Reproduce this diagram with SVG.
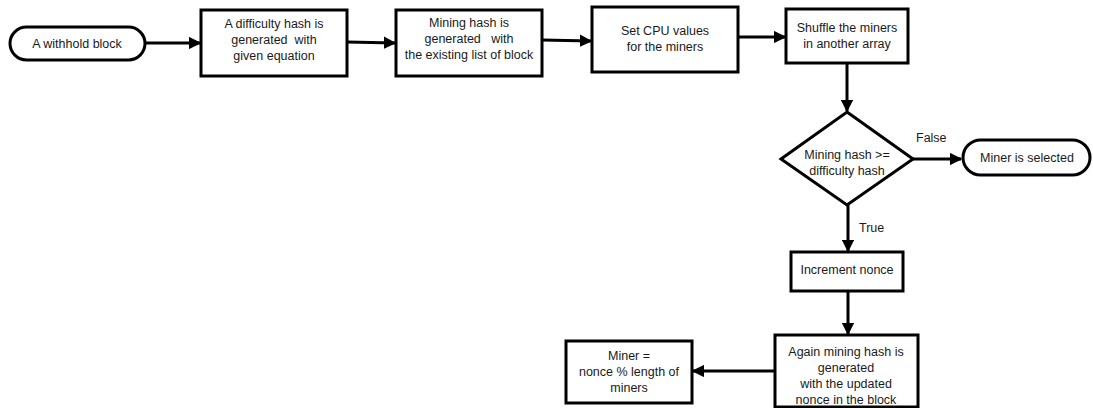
<svg xmlns="http://www.w3.org/2000/svg" width="1093" height="408" viewBox="0 0 1093 408">
  <defs>
    <marker id="arrow" viewBox="0 0 10 10" refX="9" refY="5" markerWidth="4.2" markerHeight="4.2" orient="auto" markerUnits="strokeWidth">
      <path d="M0,0 L10,5 L0,10 Z" fill="#000"/>
    </marker>
    <style>
      .shape { fill: #fff; stroke: #000; stroke-width: 3; }
      .edge { fill: none; stroke: #000; stroke-width: 3; marker-end: url(#arrow); }
      text { font-family: "Liberation Sans", Arial, sans-serif; font-size: 12.5px; fill: #1a1a1a; text-anchor: middle; white-space: pre; }
      .lbl { text-anchor: start; }
    </style>
  </defs>
  <rect width="1093" height="408" fill="#fff"/>

  <g id="connectors">
    <line class="edge" x1="145" y1="43" x2="200" y2="43"/>
    <line class="edge" x1="347" y1="42" x2="395" y2="43"/>
    <line class="edge" x1="542" y1="40" x2="591" y2="41"/>
    <line class="edge" x1="738" y1="37" x2="785" y2="37"/>
    <line class="edge" x1="847" y1="63" x2="847" y2="111"/>
    <line class="edge" x1="913" y1="159" x2="961" y2="159"/>
    <line class="edge" x1="848" y1="205" x2="848" y2="251"/>
    <line class="edge" x1="848" y1="291" x2="848" y2="334"/>
    <line class="edge" x1="775" y1="371" x2="693" y2="371"/>
    <text class="lbl" x="916" y="142">False</text>
    <text class="lbl" x="859" y="232">True</text>
  </g>

  <g id="start">
    <rect class="shape" x="10" y="27" width="135" height="33" rx="16.5" ry="16.5"/>
    <text x="77" y="48">A withhold block</text>
  </g>

  <g id="difficulty">
    <rect class="shape" x="201" y="10" width="146" height="66"/>
    <text x="274" y="28">A difficulty hash is</text>
    <text x="274" y="44">generated  with</text>
    <text x="274" y="60">given equation</text>
  </g>

  <g id="mining">
    <rect class="shape" x="396" y="10" width="146" height="66"/>
    <text x="469" y="27">Mining hash is</text>
    <text x="469" y="43">generated   with</text>
    <text x="469" y="59">the existing list of block</text>
  </g>

  <g id="cpu">
    <rect class="shape" x="592" y="7" width="146" height="65"/>
    <text x="665" y="35">Set CPU values</text>
    <text x="665" y="51">for the miners</text>
  </g>

  <g id="shuffle">
    <rect class="shape" x="786" y="9" width="122" height="54"/>
    <text x="847" y="32">Shuffle the miners</text>
    <text x="847" y="48">in another array</text>
  </g>

  <g id="decision">
    <polygon class="shape" points="847,112 913,159 847,205 781,159"/>
    <text x="847" y="159">Mining hash &gt;=</text>
    <text x="847" y="175">difficulty hash</text>
  </g>

  <g id="selected">
    <rect class="shape" x="963" y="140" width="127" height="35" rx="17.5" ry="17.5"/>
    <text x="1027" y="162">Miner is selected</text>
  </g>

  <g id="increment">
    <rect class="shape" x="791" y="252" width="112" height="39"/>
    <text x="847" y="274">Increment nonce</text>
  </g>

  <g id="again">
    <rect class="shape" x="775" y="335" width="143" height="72"/>
    <text x="846" y="356">Again mining hash is</text>
    <text x="846" y="372">generated</text>
    <text x="846" y="388">with the updated</text>
    <text x="846" y="404">nonce in the block</text>
  </g>

  <g id="result">
    <rect class="shape" x="566" y="341" width="126" height="62"/>
    <text x="629" y="360">Miner =</text>
    <text x="629" y="376">nonce % length of</text>
    <text x="629" y="392">miners</text>
  </g>
</svg>
